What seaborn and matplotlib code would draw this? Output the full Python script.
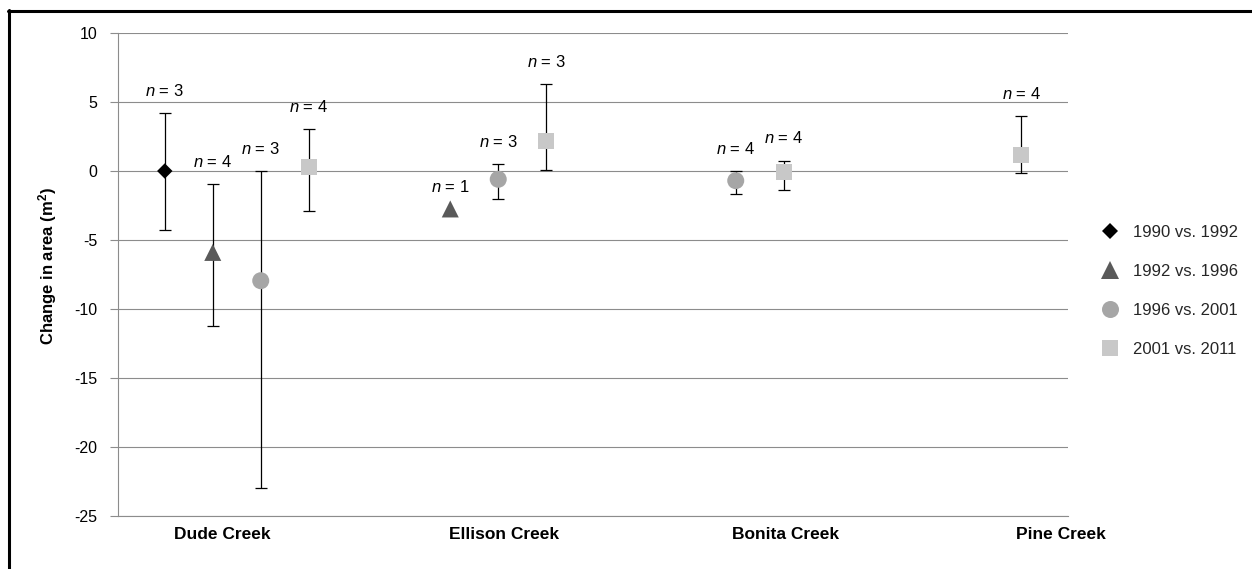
import numpy as np
import pandas as pd
import matplotlib
matplotlib.use("Agg")
import matplotlib.pyplot as plt
from matplotlib.lines import Line2D
import seaborn as sns

# ---------------- data ----------------
sites = ["Dude Creek", "Ellison Creek", "Bonita Creek", "Pine Creek"]
periods = ["1990 vs. 1992", "1992 vs. 1996", "1996 vs. 2001", "2001 vs. 2011"]
nan = np.nan

# mean change in area (m2) per site, one list per comparison period
mean_1990_1992 = [0.0, nan, nan, nan]
mean_1992_1996 = [-5.9, -2.75, nan, nan]
mean_1996_2001 = [-7.95, -0.6, -0.7, nan]
mean_2001_2011 = [0.3, 2.2, -0.1, 1.15]

# lower / upper ends of the error bars
low_1990_1992 = [-4.3, nan, nan, nan]
low_1992_1996 = [-11.2, nan, nan, nan]
low_1996_2001 = [-23.0, -2.0, -1.65, nan]
low_2001_2011 = [-2.9, 0.1, -1.4, -0.15]

high_1990_1992 = [4.2, nan, nan, nan]
high_1992_1996 = [-0.95, nan, nan, nan]
high_1996_2001 = [0.0, 0.5, 0.0, nan]
high_2001_2011 = [3.05, 6.3, 0.75, 4.0]

# sample sizes
n_1990_1992 = [3, nan, nan, nan]
n_1992_1996 = [4, 1, nan, nan]
n_1996_2001 = [3, 3, 4, nan]
n_2001_2011 = [4, 3, 4, 4]

means = [mean_1990_1992, mean_1992_1996, mean_1996_2001, mean_2001_2011]
lows = [low_1990_1992, low_1992_1996, low_1996_2001, low_2001_2011]
highs = [high_1990_1992, high_1992_1996, high_1996_2001, high_2001_2011]
ns = [n_1990_1992, n_1992_1996, n_1996_2001, n_2001_2011]

rows = []
for pi, p in enumerate(periods):
    for si, s in enumerate(sites):
        if np.isnan(means[pi][si]):
            continue
        rows.append(dict(site=s, period=p, site_idx=si, period_idx=pi,
                         mean=means[pi][si], low=lows[pi][si],
                         high=highs[pi][si], n=int(ns[pi][si])))
df = pd.DataFrame(rows)
slot = 0.202
df["xpos"] = df["site_idx"] + (df["period_idx"] - 1.5) * slot

# ---------------- style ----------------
sns.set_theme(style="white")
plt.rcParams["font.family"] = ["Liberation Sans", "DejaVu Sans"]
plt.rcParams["axes.unicode_minus"] = False
plt.rcParams["mathtext.fontset"] = "custom"
plt.rcParams["mathtext.rm"] = "Liberation Sans"
plt.rcParams["mathtext.it"] = "Liberation Sans:italic"
plt.rcParams["mathtext.bf"] = "Liberation Sans:bold"

palette = {periods[0]: "#000000", periods[1]: "#5a5a5a",
           periods[2]: "#a6a6a6", periods[3]: "#c8c8c8"}
markers = {periods[0]: "D", periods[1]: "^", periods[2]: "o", periods[3]: "s"}
sizes = {periods[0]: 62, periods[1]: 150, periods[2]: 150, periods[3]: 132}
grid_col = "#8c8c8c"

fig = plt.figure(figsize=(12.52, 5.69), dpi=100)
ax = fig.add_axes([118 / 1252, 1 - 516 / 569, 950 / 1252, 483 / 569])

# error bars
eb = df.dropna(subset=["low", "high"])
ax.errorbar(eb["xpos"], eb["mean"],
            yerr=[eb["mean"] - eb["low"], eb["high"] - eb["mean"]],
            fmt="none", ecolor="black", elinewidth=0.9, capsize=4.3,
            capthick=0.9, zorder=2)

sns.scatterplot(data=df, x="xpos", y="mean", hue="period", style="period",
                size="period", hue_order=periods, style_order=periods,
                size_order=periods, palette=palette, markers=markers,
                sizes=sizes, edgecolor="none", linewidth=0, ax=ax, zorder=3)

# n labels
for _, r in df.iterrows():
    top = r["high"] if not np.isnan(r["high"]) else r["mean"]
    ax.annotate(f"$n$ = {r['n']}", (r["xpos"], top), xytext=(0, 16),
                textcoords="offset points", ha="center", va="center",
                fontsize=12, color="black")

# axes
ax.set_xlim(-0.5, 3.5)
ax.set_ylim(-25, 10)
ax.set_yticks(np.arange(-25, 11, 5))
ax.yaxis.grid(True, color=grid_col, linewidth=0.8)
ax.xaxis.grid(False)
for side in ["top", "right"]:
    ax.spines[side].set_visible(False)
for side in ["left", "bottom"]:
    ax.spines[side].set_color(grid_col)
    ax.spines[side].set_linewidth(0.8)
ax.tick_params(axis="y", direction="out", length=5.8, color=grid_col,
               width=0.8, pad=9, labelsize=11.5, labelcolor="black", left=True)
label_pos = [-0.06, 1.125, 2.31, 3.47]
ax.set_xticks(label_pos, sites)
ax.tick_params(axis="x", length=0, pad=8, labelsize=12.5, labelcolor="black")
for t in ax.get_xticklabels():
    t.set_fontweight("bold")
ax.set_xlabel("")
ax.set_ylabel(r"Change in area (m$^{\mathbf{2}}$)", fontweight="bold",
              fontsize=12, color="black")
ax.yaxis.set_label_coords(-0.062, 0.517)

# legend
handles, labels = ax.get_legend_handles_labels()
ax.legend(handles, labels, loc="center left", bbox_to_anchor=(1.028, 0.466),
          frameon=False, fontsize=12, handlelength=1.0, handletextpad=0.9,
          labelspacing=1.45, borderaxespad=0)

# figure border (top and left)
fig.add_artist(Line2D([8 / 1252, 1], [1 - 10.5 / 569] * 2, color="black",
                      lw=2.2, transform=fig.transFigure))
fig.add_artist(Line2D([9 / 1252] * 2, [0, 1 - 10 / 569], color="black",
                      lw=2.2, transform=fig.transFigure))

fig.savefig("out.png", dpi=100)
